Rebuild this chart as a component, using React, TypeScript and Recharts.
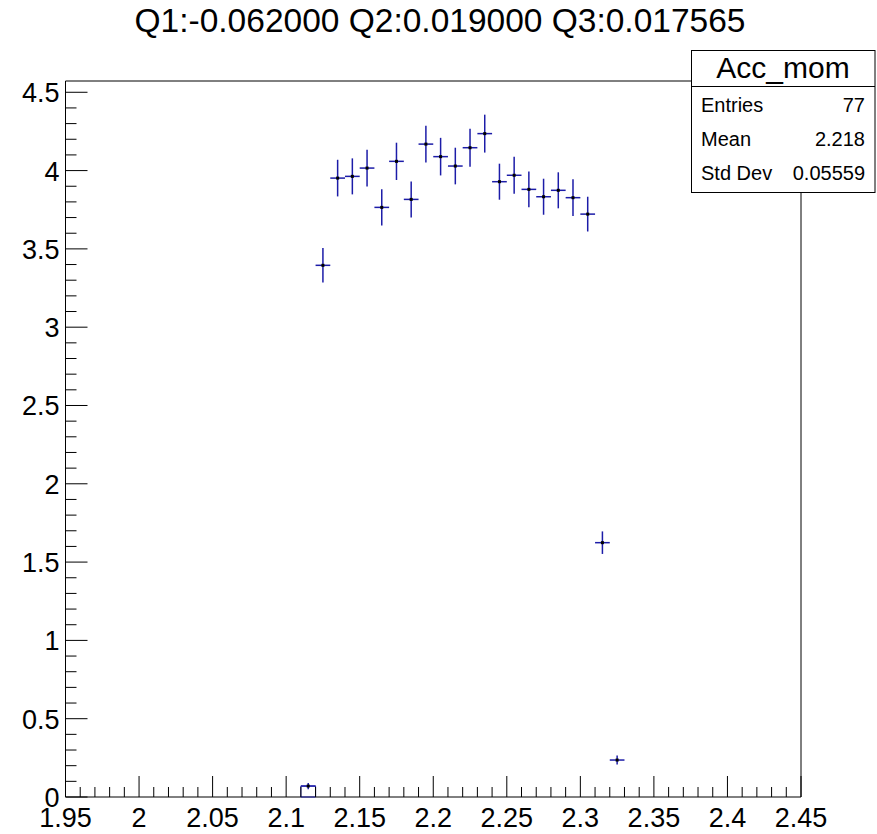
import React from 'react';
import {
  ComposedChart,
  Scatter,
  XAxis,
  YAxis,
  ErrorBar,
  ReferenceArea,
} from 'recharts';

// bin centres (bin width 0.01)
const binCenters = [
  2.115, 2.125, 2.135, 2.145, 2.155, 2.165, 2.175, 2.185, 2.195, 2.205, 2.215,
  2.225, 2.235, 2.245, 2.255, 2.265, 2.275, 2.285, 2.295, 2.305, 2.315, 2.325,
];
const binContents = [
  0.07, 3.395, 3.952, 3.963, 4.016, 3.765, 4.059, 3.816, 4.169, 4.089, 4.029,
  4.146, 4.236, 3.929, 3.97, 3.88, 3.833, 3.874, 3.827, 3.722, 1.624, 0.236,
];
const binErrors = [
  0.02, 0.11, 0.117, 0.115, 0.117, 0.115, 0.119, 0.115, 0.118, 0.12, 0.117,
  0.121, 0.121, 0.115, 0.118, 0.114, 0.115, 0.115, 0.117, 0.111, 0.072, 0.029,
];
const halfBinWidth = 0.005;

const xMajorTicks = [1.95, 2, 2.05, 2.1, 2.15, 2.2, 2.25, 2.3, 2.35, 2.4, 2.45];
const xTickLabels = ['1.95', '2', '2.05', '2.1', '2.15', '2.2', '2.25', '2.3', '2.35', '2.4', '2.45'];
const yMajorTicks = [0, 0.5, 1, 1.5, 2, 2.5, 3, 3.5, 4, 4.5];
const yTickLabels = ['0', '0.5', '1', '1.5', '2', '2.5', '3', '3.5', '4', '4.5'];

const title = 'Q1:-0.062000 Q2:0.019000 Q3:0.017565';
const statsName = 'Acc_mom';
const statsLabels = ['Entries', 'Mean', 'Std Dev'];
const statsValues = ['77', '2.218', '0.05559'];

const xDomain: [number, number] = [1.95, 2.45];
const yDomain: [number, number] = [0, 4.572];

const data = binCenters.map((x, i) => ({
  x,
  y: binContents[i],
  ey: binErrors[i],
  ex: halfBinWidth,
}));

// 5 subdivisions between majors
const withMinor = (majors: number[]) => {
  const out: number[] = [];
  for (let i = 0; i < majors.length; i++) {
    out.push(majors[i]);
    if (i < majors.length - 1) {
      const step = (majors[i + 1] - majors[i]) / 5;
      for (let k = 1; k < 5; k++) out.push(+(majors[i] + k * step).toFixed(4));
    }
  }
  return out;
};
const xTicks = withMinor(xMajorTicks);
const yTicks = withMinor(yMajorTicks);

const FONT = '"Liberation Sans", Arial, Helvetica, sans-serif';
const BLUE = '#1c1ca8';

const findMajor = (list: number[], v: number) => list.findIndex((m) => Math.abs(m - v) < 1e-6);

const XTick = (props: any) => {
  const { x, y, payload } = props;
  const idx = findMajor(xMajorTicks, payload.value);
  const len = idx >= 0 ? 21 : 10;
  return (
    <g>
      <line x1={x} x2={x} y1={y} y2={y - len} stroke="#000" strokeWidth={1} />
      {idx >= 0 && (
        <text x={x} y={y + 30} textAnchor="middle" fontSize={27} fontFamily={FONT} fill="#000">
          {xTickLabels[idx]}
        </text>
      )}
    </g>
  );
};

const YTick = (props: any) => {
  const { x, y, payload } = props;
  const idx = findMajor(yMajorTicks, payload.value);
  const len = idx >= 0 ? 22 : 11;
  return (
    <g>
      <line x1={x} x2={x + len} y1={y} y2={y} stroke="#000" strokeWidth={1} />
      {idx >= 0 && (
        <text x={x - 6} y={y + 10} textAnchor="end" fontSize={27} fontFamily={FONT} fill="#000">
          {yTickLabels[idx]}
        </text>
      )}
    </g>
  );
};

const Marker = (props: any) => {
  const { cx, cy } = props;
  return <rect x={cx - 1.5} y={cy - 1.5} width={3} height={3} fill="#000" />;
};

const App: React.FC = () => {
  return (
    <div style={{ position: 'absolute', left: 0, top: 0, width: 877, height: 834, background: '#fff' }}>
      <ComposedChart
        width={877}
        height={834}
        data={data}
        margin={{ top: 81, right: 76, bottom: 36, left: 64.5 }}
      >
        <XAxis
          dataKey="x"
          type="number"
          domain={xDomain}
          ticks={xTicks}
          interval={0}
          height={1}
          tickSize={0}
          tickMargin={0}
          axisLine={false}
          tickLine={false}
          tick={<XTick />}
          allowDataOverflow
        />
        <YAxis
          dataKey="y"
          type="number"
          domain={yDomain}
          ticks={yTicks}
          interval={0}
          width={1}
          tickSize={0}
          tickMargin={0}
          axisLine={false}
          tickLine={false}
          tick={<YTick />}
          allowDataOverflow
        />
        <ReferenceArea
          x1={xDomain[0]}
          x2={xDomain[1]}
          y1={yDomain[0]}
          y2={yDomain[1]}
          fill="none"
          fillOpacity={0}
          stroke="#000"
          strokeWidth={1}
        />
        <ReferenceArea
          x1={binCenters[0] - halfBinWidth}
          x2={binCenters[0] + halfBinWidth}
          y1={0}
          y2={binContents[0]}
          fill="none"
          fillOpacity={0}
          stroke={BLUE}
          strokeWidth={1}
        />
        <Scatter dataKey="y" shape={<Marker />} isAnimationActive={false}>
          <ErrorBar dataKey="ey" direction="y" width={0} stroke={BLUE} strokeWidth={1.5} />
          <ErrorBar dataKey="ex" direction="x" width={0} stroke={BLUE} strokeWidth={1.5} />
        </Scatter>
      </ComposedChart>
      <svg
        width={877}
        height={834}
        style={{ position: 'absolute', left: 0, top: 0, pointerEvents: 'none' }}
      >
        <text x={440} y={32} textAnchor="middle" fontSize={33.5} fontFamily={FONT} fill="#000">
          {title}
        </text>
        <rect x={691.5} y={50.5} width={183.5} height={142} fill="#fff" stroke="#000" strokeWidth={1} />
        <line x1={691.5} x2={875} y1={86.5} y2={86.5} stroke="#000" strokeWidth={1} />
        <text x={783} y={78} textAnchor="middle" fontSize={30} fontFamily={FONT} fill="#000">
          {statsName}
        </text>
        {statsLabels.map((label, i) => (
          <g key={label}>
            <text x={701} y={112 + i * 34} fontSize={20} fontFamily={FONT} fill="#000">
              {label}
            </text>
            <text x={865} y={112 + i * 34} textAnchor="end" fontSize={20} fontFamily={FONT} fill="#000">
              {statsValues[i]}
            </text>
          </g>
        ))}
      </svg>
    </div>
  );
};

export default App;
